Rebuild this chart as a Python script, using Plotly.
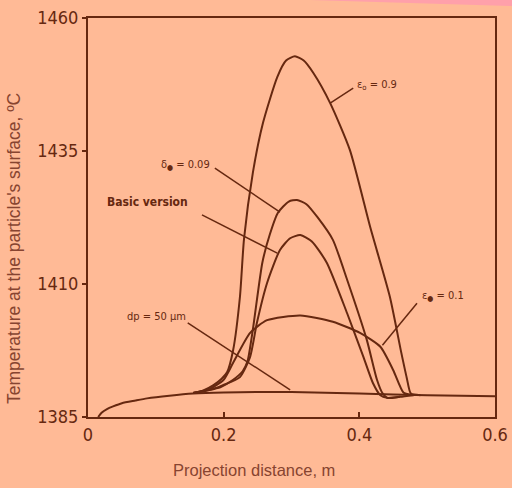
import plotly.graph_objects as go

# Baseline curve (dp = 50 um)
base_x = [0.015, 0.02, 0.028, 0.037, 0.05, 0.07, 0.087, 0.12, 0.155, 0.2, 0.3, 0.4, 0.5, 0.6]
base_y = [1385.0, 1385.8, 1386.5, 1387.0, 1387.6, 1388.1, 1388.5, 1389.0, 1389.4, 1389.6, 1389.7, 1389.4, 1389.1, 1388.9]

# eps_o = 0.9
e9_x = [0.155, 0.17, 0.185, 0.197, 0.205, 0.214, 0.224, 0.230, 0.243, 0.258, 0.279, 0.292, 0.305, 0.318, 0.332, 0.357, 0.386, 0.416, 0.445, 0.462, 0.470, 0.476, 0.49]
e9_y = [1389.5, 1390.0, 1391.0, 1392.2, 1393.4, 1397.6, 1407.6, 1418.5, 1430.9, 1440.3, 1448.9, 1452.0, 1452.8, 1452.0, 1449.7, 1444.0, 1435.2, 1420.7, 1407.6, 1397.0, 1392.3, 1389.4, 1389.1]

# delta = 0.09
d9_x = [0.155, 0.175, 0.195, 0.214, 0.228, 0.235, 0.243, 0.257, 0.268, 0.280, 0.296, 0.308, 0.322, 0.338, 0.361, 0.382, 0.411, 0.426, 0.434, 0.441, 0.46, 0.48]
d9_y = [1389.5, 1390.0, 1390.6, 1392.0, 1393.6, 1395.4, 1401.4, 1414.0, 1419.3, 1423.4, 1425.5, 1425.8, 1425.0, 1422.6, 1418.3, 1410.8, 1399.5, 1392.0, 1389.5, 1388.6, 1388.8, 1389.1]

# Basic version
bv_x = [0.155, 0.18, 0.199, 0.224, 0.239, 0.249, 0.264, 0.283, 0.298, 0.313, 0.330, 0.352, 0.382, 0.406, 0.420, 0.431, 0.441, 0.46]
bv_y = [1389.5, 1390.1, 1391.0, 1392.5, 1396.3, 1402.7, 1410.2, 1416.4, 1418.6, 1419.2, 1418.0, 1414.0, 1404.5, 1396.3, 1391.4, 1389.1, 1388.6, 1388.8]

# eps = 0.1
e1_x = [0.155, 0.18, 0.2, 0.214, 0.239, 0.264, 0.313, 0.361, 0.401, 0.431, 0.45, 0.465, 0.476]
e1_y = [1389.5, 1390.3, 1392.0, 1395.2, 1400.8, 1403.2, 1404.1, 1402.9, 1400.8, 1398.2, 1393.8, 1389.6, 1389.2]

x_ticks = [0, 0.2, 0.4, 0.6]
x_tick_text = ["0", "0.2", "0.4", "0.6"]
y_ticks = [1385, 1410, 1435, 1460]

BG = "#FFBA96"
INK = "#662810"
TITLE_INK = "#874430"
NARROW = "Liberation Sans Narrow, DejaVu Sans Condensed, Arial Narrow, sans-serif"

fig = go.Figure()
for xs, ys in [(base_x, base_y), (e9_x, e9_y), (d9_x, d9_y), (bv_x, bv_y), (e1_x, e1_y)]:
    fig.add_trace(go.Scatter(x=xs, y=ys, mode="lines",
                             line=dict(color=INK, width=2, shape="spline", smoothing=0.6),
                             showlegend=False, hoverinfo="skip"))

pointers = [
    (0.357, 1444.0, 0.391, 1446.8),
    (0.187, 1431.8, 0.283, 1423.5),
    (0.168, 1423.0, 0.279, 1415.8),
    (0.485, 1406.4, 0.434, 1398.5),
    (0.147, 1402.7, 0.298, 1390.1),
]
for x0, y0, x1, y1 in pointers:
    fig.add_shape(type="line", x0=x0, y0=y0, x1=x1, y1=y1, line=dict(color=INK, width=1.5), xref="x", yref="y")

lab_font = dict(family=NARROW, size=11, color=INK)
annots = [
    (0.394, 1447.4, "ε<sub>o</sub> = 0.9", "left", 11),
    (0.183, 1432.4, "δ<sub>●</sub> = 0.09", "right", 11),
    (0.0878, 1425.4, "<b>Basic version</b>", "center", 12),
    (0.489, 1407.8, "ε<sub>●</sub> = 0.1", "left", 11),
    (0.148, 1403.9, "dp = 50 μm", "right", 11),
]
for x, y, t, xa, sz in annots:
    f = dict(lab_font)
    f["size"] = sz
    fig.add_annotation(x=x, y=y, text=t, showarrow=False, xanchor=xa, yanchor="middle", font=f)

# axis titles (placed as in the reference, offset from the axis centres)
fig.add_annotation(xref="paper", yref="paper", x=(14 - 88) / 407, y=(417 - 249) / 399,
                   text="Temperature at the particle's surface, ºC", textangle=-90, showarrow=False,
                   xanchor="center", yanchor="middle",
                   font=dict(family="Liberation Sans, Arial, sans-serif", size=17.5, color=TITLE_INK))
fig.add_annotation(xref="paper", yref="paper", x=(254 - 88) / 407, y=(417 - 470) / 399,
                   text="Projection distance, m", showarrow=False, xanchor="center", yanchor="middle",
                   font=dict(family="Liberation Sans, Arial, sans-serif", size=16.5, color=TITLE_INK))

# faint pink band at the top right edge of the scan
fig.add_shape(type="path", xref="paper", yref="paper", layer="above",
              path="M %f %f L %f %f L %f %f Z" % ((310 - 88) / 407, (417 - 0) / 399,
                                                    (512 - 88) / 407, (417 - 0) / 399,
                                                    (512 - 88) / 407, (417 - 6) / 399),
              fillcolor="#FFA0AA", line=dict(width=0))

tick_font = dict(family=NARROW, size=18, color=INK)
fig.update_xaxes(range=[0, 0.6], tickvals=x_ticks, ticktext=x_tick_text, automargin=False,
                 showgrid=False, zeroline=False, showline=True, linecolor=INK, linewidth=2, mirror=True,
                 ticks="inside", tickcolor=INK, ticklen=5, tickwidth=1.5, tickfont=tick_font)
fig.update_yaxes(range=[1385, 1460], tickvals=y_ticks, ticktext=[str(v) for v in y_ticks], automargin=False,
                 showgrid=False, zeroline=False, showline=True, linecolor=INK, linewidth=2, mirror=True,
                 ticks="outside", tickcolor=INK, ticklen=4, tickwidth=1.5, tickfont=tick_font)

fig.update_layout(width=512, height=488, paper_bgcolor=BG, plot_bgcolor=BG,
                  margin=dict(l=88, r=17, t=18, b=71, autoexpand=False))

fig.write_html("out.html", config={"displayModeBar": False},
               post_script="document.body.style.margin='0';document.body.style.padding='0';"
                           "document.body.style.background='%s';document.body.style.overflow='hidden';" % BG)
